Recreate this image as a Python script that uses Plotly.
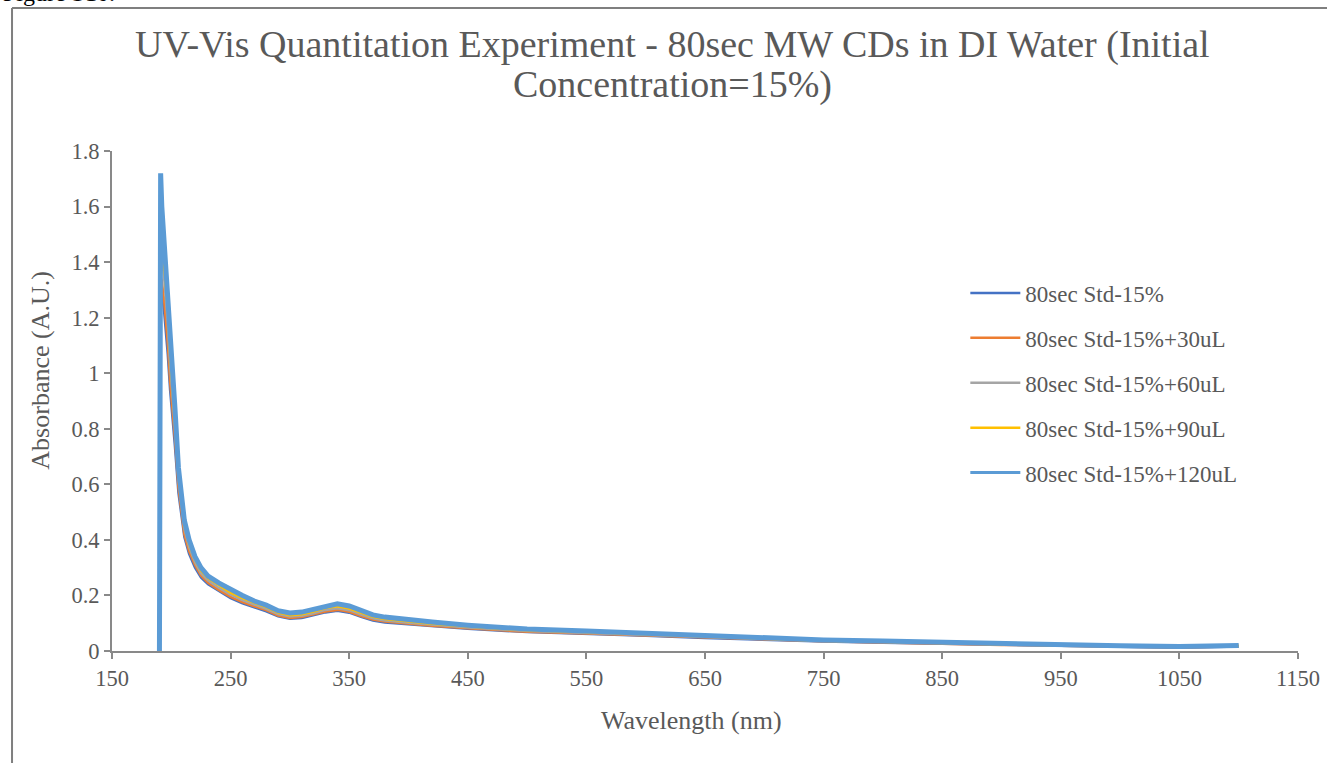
import plotly.graph_objects as go

# Wavelength grid (nm) shared by all scans
wavelength = [190, 191, 192, 194, 197, 199, 203, 206, 211, 215, 220, 225, 231, 240,
              250, 260, 270, 280, 290, 300, 310, 320, 330, 340, 350, 360, 370, 380,
              400, 420, 450, 500, 550, 600, 650, 700, 750, 800, 850, 900, 950, 1000,
              1050, 1100]

std_15 = [0, 1.30, 1.29, 1.22, 1.07, 0.94, 0.74, 0.57, 0.41, 0.35, 0.30, 0.265, 0.24, 0.215,
          0.19, 0.172, 0.157, 0.143, 0.125, 0.116, 0.119, 0.128, 0.139, 0.145, 0.138, 0.123,
          0.11, 0.103, 0.096, 0.089, 0.08, 0.068, 0.062, 0.055, 0.047, 0.04, 0.034, 0.03,
          0.026, 0.022, 0.018, 0.015, 0.012, 0.016]

std_15_30ul = [0, 1.35, 1.33, 1.26, 1.11, 0.97, 0.77, 0.59, 0.42, 0.36, 0.31, 0.272, 0.246, 0.22,
               0.195, 0.176, 0.161, 0.147, 0.128, 0.119, 0.122, 0.131, 0.142, 0.148, 0.141, 0.126,
               0.113, 0.106, 0.098, 0.091, 0.082, 0.069, 0.063, 0.056, 0.048, 0.041, 0.035, 0.031,
               0.026, 0.022, 0.019, 0.016, 0.013, 0.017]

std_15_60ul = [0, 1.45, 1.42, 1.34, 1.18, 1.03, 0.81, 0.62, 0.44, 0.375, 0.32, 0.28, 0.254, 0.228,
               0.203, 0.183, 0.167, 0.152, 0.133, 0.124, 0.127, 0.136, 0.148, 0.154, 0.147, 0.131,
               0.118, 0.11, 0.102, 0.095, 0.085, 0.072, 0.066, 0.058, 0.05, 0.043, 0.036, 0.032,
               0.027, 0.023, 0.02, 0.017, 0.014, 0.018]

std_15_90ul = [0, 1.52, 1.50, 1.40, 1.23, 1.07, 0.84, 0.64, 0.455, 0.385, 0.33, 0.29, 0.262, 0.236,
               0.21, 0.19, 0.173, 0.158, 0.138, 0.129, 0.132, 0.142, 0.155, 0.161, 0.153, 0.137,
               0.123, 0.115, 0.106, 0.098, 0.088, 0.075, 0.068, 0.06, 0.052, 0.044, 0.037, 0.033,
               0.028, 0.024, 0.021, 0.018, 0.015, 0.02]

std_15_120ul = [0, 1.72, 1.60, 1.48, 1.30, 1.12, 0.88, 0.66, 0.47, 0.40, 0.34, 0.30, 0.27, 0.245,
                0.22, 0.20, 0.18, 0.165, 0.145, 0.137, 0.14, 0.15, 0.163, 0.17, 0.162, 0.145,
                0.13, 0.122, 0.112, 0.104, 0.093, 0.079, 0.072, 0.064, 0.055, 0.047, 0.04, 0.036,
                0.031, 0.027, 0.023, 0.019, 0.016, 0.02]

series_names = ["80sec Std-15%", "80sec Std-15%+30uL", "80sec Std-15%+60uL",
                "80sec Std-15%+90uL", "80sec Std-15%+120uL"]
series_values = [std_15, std_15_30ul, std_15_60ul, std_15_90ul, std_15_120ul]
series_colors = ["#4472C4", "#ED7D31", "#A5A5A5", "#FFC000", "#5B9BD5"]

x_ticks = [150, 250, 350, 450, 550, 650, 750, 850, 950, 1050, 1150]
y_ticks = [0, 0.2, 0.4, 0.6, 0.8, 1, 1.2, 1.4, 1.6, 1.8]
y_tick_text = ["0", "0.2", "0.4", "0.6", "0.8", "1", "1.2", "1.4", "1.6", "1.8"]

title_lines = ["UV-Vis Quantitation Experiment - 80sec MW CDs in DI Water (Initial",
               "Concentration=15%)"]

FONT = "Liberation Serif, Times New Roman, serif"
TXT = "#595959"
AX = "#898989"
TICK_SIZE = 22.5

fig = go.Figure()
for i, (name, vals, col) in enumerate(zip(series_names, series_values, series_colors)):
    last = i == len(series_names) - 1
    fig.add_trace(go.Scatter(
        x=wavelength, y=vals, mode="lines", name=name,
        line=dict(color=col, width=5 if last else 2.5),
        showlegend=not last, legendgroup=f"g{i}",
    ))
# legend entry for the top scan with a standard-width swatch
fig.add_trace(go.Scatter(
    x=[None], y=[None], mode="lines", name=series_names[-1],
    line=dict(color=series_colors[-1], width=3), legendgroup="g4",
))

axis_style = dict(
    showgrid=False, zeroline=False, showline=True, linecolor=AX, linewidth=2,
    ticks="outside", ticklen=6, tickwidth=2, tickcolor=AX, automargin=False,
    tickfont=dict(family=FONT, size=TICK_SIZE, color=TXT),
)

fig.update_layout(
    width=1327, height=763,
    margin=dict(l=112, r=29, t=151, b=112),
    paper_bgcolor="white", plot_bgcolor="white",
    font=dict(family=FONT, color=TXT, size=TICK_SIZE),
    showlegend=True,
    legend=dict(
        x=0.7195, y=0.759, xanchor="left", yanchor="top",
        font=dict(family=FONT, size=23, color=TXT),
        tracegroupgap=12, itemwidth=50, bgcolor="rgba(0,0,0,0)",
    ),
    xaxis=dict(range=[150, 1150], tickvals=x_ticks, ticktext=[str(v) for v in x_ticks], **axis_style),
    yaxis=dict(range=[0, 1.8], tickvals=y_ticks, ticktext=y_tick_text, **axis_style),
    annotations=[
        dict(text=title_lines[0], xref="paper", yref="paper", x=0.473, y=1.214,
             xanchor="center", yanchor="middle", showarrow=False,
             font=dict(family=FONT, size=38, color=TXT)),
        dict(text=title_lines[1], xref="paper", yref="paper", x=0.473, y=1.134,
             xanchor="center", yanchor="middle", showarrow=False,
             font=dict(family=FONT, size=38, color=TXT)),
        dict(text="Wavelength (nm)", xref="paper", yref="paper", x=0.489, y=-0.138,
             xanchor="center", yanchor="middle", showarrow=False,
             font=dict(family=FONT, size=26, color=TXT)),
        dict(text="Absorbance (A.U.)", xref="paper", yref="paper", x=-0.061, y=0.562,
             xanchor="center", yanchor="middle", textangle=-90, showarrow=False,
             font=dict(family=FONT, size=26, color=TXT)),
        dict(text="Figure S10.", xref="paper", yref="paper", x=-0.094, y=1.317,
             xanchor="left", yanchor="middle", showarrow=False,
             font=dict(family=FONT, size=24, color="black")),
    ],
    shapes=[
        dict(type="line", xref="paper", yref="paper", x0=-0.0843, x1=1.03, y0=1.286, y1=1.286,
             line=dict(color="#7f7f7f", width=2)),
        dict(type="line", xref="paper", yref="paper", x0=-0.0843, x1=-0.0843, y0=1.286, y1=-0.23,
             line=dict(color="#7f7f7f", width=2)),
    ],
)

fig.write_html("out.html")
